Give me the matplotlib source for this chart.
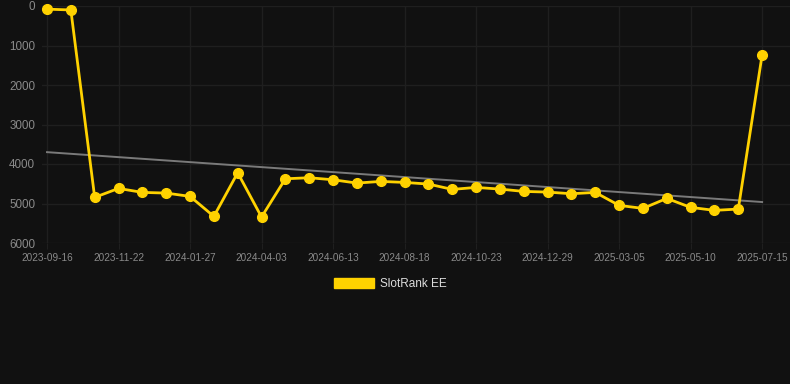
import numpy as np
import matplotlib
matplotlib.use('Agg')
import matplotlib.pyplot as plt
from matplotlib.patches import Patch

# rank per period (lower = better, axis is inverted)
ranks = [80, 100, 4845, 4618, 4719, 4736, 4820, 5326, 4222, 5343,
         4374, 4348, 4399, 4483, 4441, 4466, 4508, 4643, 4593, 4635,
         4694, 4711, 4753, 4719, 5048, 5124, 4871, 5098, 5174, 5141, 1239]
tick_labels = ['2023-09-16', '2023-11-22', '2024-01-27', '2024-04-03', '2024-06-13',
               '2024-08-18', '2024-10-23', '2024-12-29', '2025-03-05', '2025-05-10',
               '2025-07-15']
y_ticks = [0, 1000, 2000, 3000, 4000, 5000, 6000]
series_name = 'SlotRank EE'

plt.rcParams['font.family'] = ['Liberation Sans', 'DejaVu Sans']

bg = '#111111'
gold = '#ffd200'

x = np.arange(len(ranks))
coef = np.polyfit(x, ranks, 1)
trend = np.polyval(coef, x)

fig = plt.figure(figsize=(7.9, 3.84), dpi=100, facecolor=bg)
ax = fig.add_axes([42/790, 1 - 243/384, 748/790, 237/384])
ax.set_facecolor(bg)

ax.plot(x, trend, color='#7a7a7a', lw=1.4, zorder=2)
ax.plot(x, ranks, color=gold, lw=2, marker='o', ms=7, zorder=3, clip_on=False)

ax.set_xlim(-0.21, 31.17)
ax.set_ylim(6000, 0)
ax.set_yticks(y_ticks)
ax.set_xticks(x[::3])
ax.set_xticklabels(tick_labels)

ax.grid(True, color='#1f1f1f', lw=1)
for s in ax.spines.values():
    s.set_visible(False)
ax.tick_params(axis='y', length=0, pad=5, labelsize=8.4, labelcolor='#8a8a8a')
ax.tick_params(axis='x', length=4, color='#1f1f1f', pad=3, labelsize=7.2, labelcolor='#8a8a8a')

fig.legend(handles=[Patch(facecolor=gold, edgecolor=gold)], labels=[series_name],
           loc='center', bbox_to_anchor=(390/790, 1 - 284/384), frameon=False,
           handlelength=3.4, handleheight=1.0, handletextpad=0.5,
           fontsize=8.5, labelcolor='#dddddd')

fig.savefig('out.png', dpi=100, facecolor=bg)
